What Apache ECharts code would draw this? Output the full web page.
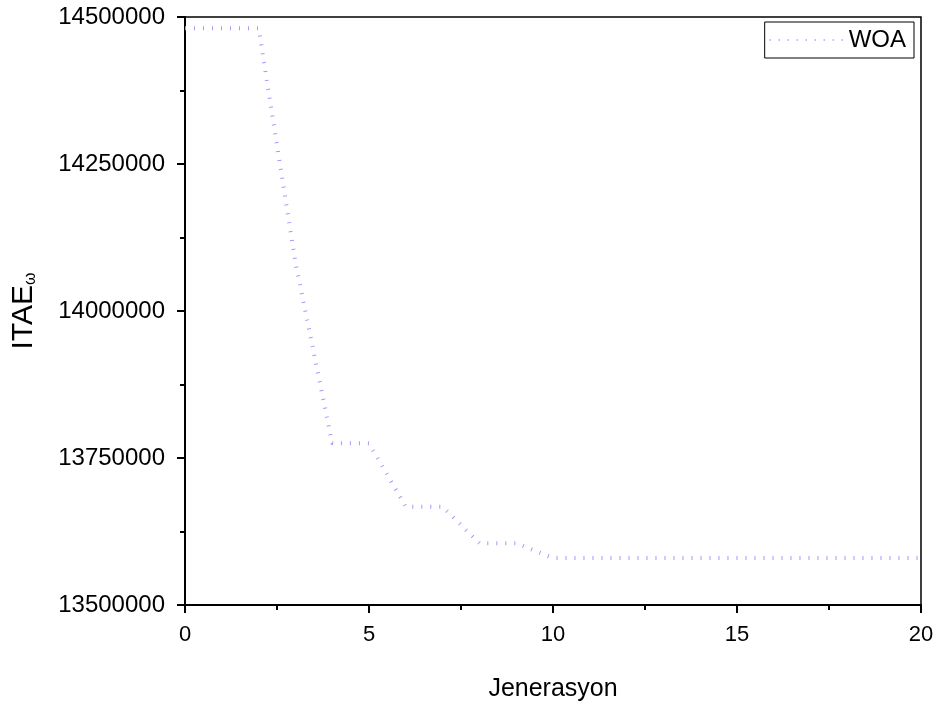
<!DOCTYPE html>
<html>
<head>
<meta charset="utf-8">
<script src="https://cdn.jsdelivr.net/npm/echarts@6/dist/echarts.min.js"></script>
<style>
  html, body { margin: 0; padding: 0; background: #fff; overflow: hidden; }
  #chart { width: 940px; height: 702px; }
</style>
</head>
<body>
<div id="chart"></div>
<script>
// jenerasyon (iterasyon) ve WOA ITAE degerleri
var generations = [0, 1, 2, 3, 4, 5, 6, 7, 8, 9, 10, 11, 12, 13, 14, 15, 16, 17, 18, 19, 20];
var woaItae = [14481000, 14481000, 14481000, 14083000, 13775000, 13775000, 13667000, 13667000,
               13605000, 13605000, 13580000, 13580000, 13580000, 13580000, 13580000, 13580000,
               13580000, 13580000, 13580000, 13580000, 13580000];
var xTicks = [0, 5, 10, 15, 20];
var yTicks = [13500000, 13750000, 14000000, 14250000, 14500000];

var font = 'Liberation Sans, Arial, sans-serif';

var myChart = echarts.init(document.getElementById('chart'));

var seriesData = [];
for (var i = 0; i < generations.length; i++) {
    seriesData.push([generations[i], woaItae[i]]);
}

var option = {
    backgroundColor: '#fff',
    animation: false,
    grid: {
        left: 185, right: 19, top: 17, bottom: 97,
        outerBoundsMode: 'none',
        show: true,
        borderColor: '#000',
        borderWidth: 1.5
    },
    legend: {
        right: 26,
        top: 22,
        orient: 'horizontal',
        data: ['WOA'],
        itemWidth: 74,
        itemHeight: 14,
        itemGap: 10,
        padding: [6, 8, 6, 4],
        borderColor: '#000',
        borderWidth: 1,
        borderRadius: 0,
        itemStyle: { opacity: 0 },
        textStyle: { fontFamily: font, fontSize: 24, color: '#000' }
    },
    xAxis: {
        type: 'value',
        min: xTicks[0],
        max: xTicks[xTicks.length - 1],
        interval: 5,
        name: 'Jenerasyon',
        nameLocation: 'middle',
        nameGap: 72,
        nameTextStyle: { fontFamily: font, fontSize: 25, color: '#000' },
        axisLine: { lineStyle: { color: '#000', width: 2 } },
        axisTick: { inside: false, length: 8, lineStyle: { color: '#000', width: 2 } },
        minorTick: { show: true, splitNumber: 2, length: 5, lineStyle: { color: '#000', width: 2 } },
        axisLabel: { fontFamily: font, fontSize: 22, color: '#000', margin: 19 },
        splitLine: { show: false }
    },
    yAxis: {
        type: 'value',
        min: yTicks[0],
        max: yTicks[yTicks.length - 1],
        interval: 250000,
        name: '{m|ITAE}{s|ω}',
        nameLocation: 'middle',
        nameGap: 146,
        nameRotate: 90,
        nameTextStyle: {
            rich: {
                m: { fontFamily: font, fontSize: 30, color: '#000' },
                s: { fontFamily: font, fontSize: 16, color: '#000', verticalAlign: 'bottom', padding: [14, 0, 0, 0] }
            }
        },
        axisLine: { lineStyle: { color: '#000', width: 2 } },
        axisTick: { inside: false, length: 8, lineStyle: { color: '#000', width: 2 } },
        minorTick: { show: true, splitNumber: 2, length: 5, lineStyle: { color: '#000', width: 2 } },
        axisLabel: {
            fontFamily: font, fontSize: 24, color: '#000', margin: 20,
            formatter: function (v) { return String(v); }
        },
        splitLine: { show: false }
    },
    series: [{
        name: 'WOA',
        type: 'line',
        data: seriesData,
        symbol: 'none',
        lineStyle: {
            color: '#9c9cff',
            width: 4,
            type: [1, 8]
        },
        itemStyle: { color: '#9c9cff' }
    }]
};

myChart.setOption(option);
window.onresize = myChart.resize;
</script>
</body>
</html>
